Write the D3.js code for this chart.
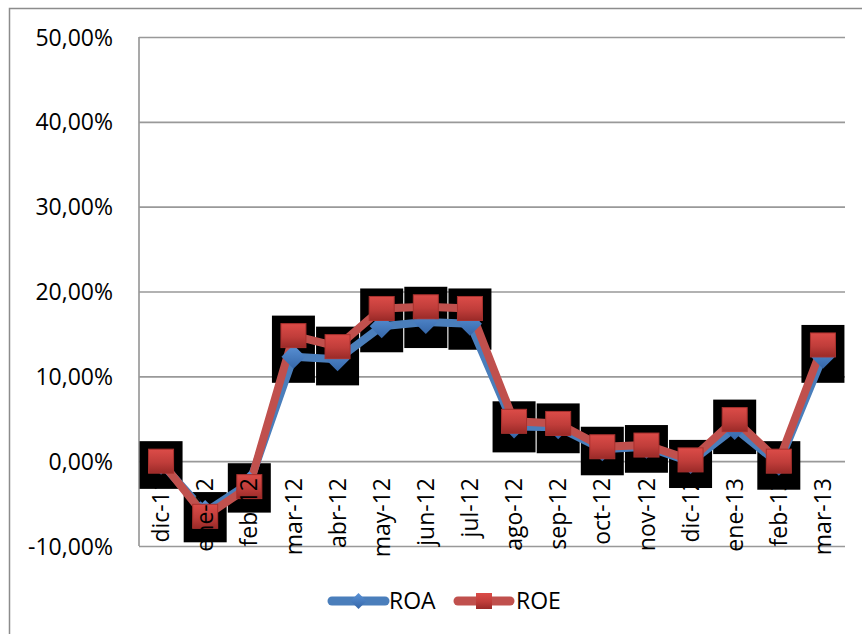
<!DOCTYPE html>
<html><head><meta charset="utf-8">
<script src="https://cdn.jsdelivr.net/npm/d3@7"></script>
<style>html,body{margin:0;padding:0;background:#fff;}svg{display:block;}</style>
</head><body>
<svg id="c" width="862" height="634"></svg>
<script>
const categories = ["dic-11","ene-12","feb-12","mar-12","abr-12","may-12","jun-12","jul-12","ago-12","sep-12","oct-12","nov-12","dic-12","ene-13","feb-13","mar-13"];
const roa = [-0.2, -6.0, -2.6, 12.3, 12.0, 15.9, 16.4, 16.2, 4.1, 4.0, 1.4, 1.7, -0.1, 3.9, -0.3, 12.3];
const roe = [0.0, -6.5, -3.0, 14.8, 13.5, 18.0, 18.2, 18.0, 4.7, 4.45, 1.7, 1.9, 0.15, 4.9, 0.0, 13.7];
const yTicks = [-10, 0, 10, 20, 30, 40, 50];
const seriesNames = ["ROA", "ROE"];

const svg = d3.select("#c");
const FONT = "'Open Sans', 'DejaVu Sans', sans-serif";
const FS = 23;
const defs = svg.append("defs");
const gR = defs.append("linearGradient").attr("id","gr").attr("x1",0).attr("y1",0).attr("x2",0).attr("y2",1);
gR.append("stop").attr("offset","0%").attr("stop-color","#dc4c48");
gR.append("stop").attr("offset","55%").attr("stop-color","#c03d3a");
gR.append("stop").attr("offset","100%").attr("stop-color","#9a2a28");
const gB = defs.append("linearGradient").attr("id","gb").attr("x1",0).attr("y1",0).attr("x2",0).attr("y2",1);
gB.append("stop").attr("offset","0%").attr("stop-color","#5a92d6");
gB.append("stop").attr("offset","100%").attr("stop-color","#3566a8");

// outer border
svg.append("rect").attr("x",9.5).attr("y",8.5).attr("width",900).attr("height",700)
  .attr("fill","none").attr("stroke","#8c8c8c").attr("stroke-width",1.5);

const x = d3.scaleBand().domain(categories).range([139, 845]);
const y = d3.scaleLinear().domain([-10, 50]).range([546, 37]);
const cx = c => x(c) + x.bandwidth()/2;

// gridlines
const yAxis = d3.axisLeft(y).tickValues(yTicks).tickSize(-(845-139)).tickPadding(26)
  .tickFormat(d => d3.format(".2f")(d).replace(".", ",").replace("\u2212", "-") + "%");
const ga = svg.append("g").attr("transform","translate(139,0)").call(yAxis);
ga.select(".domain").attr("stroke","#8c8c8c").attr("stroke-width",1.5).attr("d","M0,37V546");
ga.selectAll(".tick line").attr("stroke","#999").attr("stroke-width",1.6);
ga.selectAll(".tick text").attr("font-family",FONT).attr("font-size",FS).attr("fill","#000")
  .attr("dy","0.35em");

// black shadow boxes
svg.append("g").selectAll("rect").data(categories).join("rect")
  .attr("x", c => cx(c) - 21.5)
  .attr("width", 43)
  .attr("y", (c,i) => Math.min(y(roe[i]), y(roa[i])) - 20)
  .attr("height", (c,i) => Math.abs(y(roe[i]) - y(roa[i])) + 46)
  .attr("fill","#000");

// lines
const line = vals => d3.line().x((d,i) => cx(categories[i])).y(d => y(d))(vals);
svg.append("path").attr("d", line(roa)).attr("fill","none").attr("stroke","#4a7ebb")
  .attr("stroke-width",8).attr("stroke-linejoin","round");
svg.append("path").attr("d", line(roe)).attr("fill","none").attr("stroke","#c0504d")
  .attr("stroke-width",8).attr("stroke-linejoin","round");

// markers
const dia = s => `M0,${-s}L${s},0L0,${s}L${-s},0Z`;
svg.append("g").selectAll("path").data(roa).join("path")
  .attr("transform",(d,i) => `translate(${cx(categories[i])},${y(d)})`)
  .attr("d", dia(12)).attr("fill","url(#gb)");
svg.append("g").selectAll("rect").data(roe).join("rect")
  .attr("x",(d,i) => cx(categories[i]) - 12.5).attr("y", d => y(d) - 12)
  .attr("width",25).attr("height",24).attr("fill","url(#gr)")
  .attr("stroke","#a9312e").attr("stroke-width",1);

// category labels
svg.append("g").selectAll("text").data(categories).join("text")
  .attr("transform", c => `translate(${cx(c)},478) rotate(-90)`)
  .attr("text-anchor","end").attr("dy","0.35em")
  .attr("font-family",FONT).attr("font-size",FS).attr("fill","#000")
  .text(c => c);

// legend
const lg = svg.append("g");
const legendItems = [
  {name: seriesNames[0], x1: 332, x2: 385, color: "#4a7ebb", tx: 389},
  {name: seriesNames[1], x1: 458, x2: 510, color: "#c0504d", tx: 516}
];
legendItems.forEach((it, k) => {
  lg.append("line").attr("x1",it.x1).attr("x2",it.x2).attr("y1",601).attr("y2",601)
    .attr("stroke",it.color).attr("stroke-width",9).attr("stroke-linecap","round");
  const mx = (it.x1 + it.x2)/2;
  if (k === 0) lg.append("path").attr("transform",`translate(${mx},601)`).attr("d",dia(8)).attr("fill","url(#gb)");
  else lg.append("rect").attr("x",mx-8).attr("y",593).attr("width",16).attr("height",16).attr("fill","url(#gr)");
  lg.append("text").attr("x",it.tx).attr("y",601).attr("dy","0.35em")
    .attr("font-family",FONT).attr("font-size",FS).attr("fill","#000").text(it.name);
});
</script>
</body></html>
